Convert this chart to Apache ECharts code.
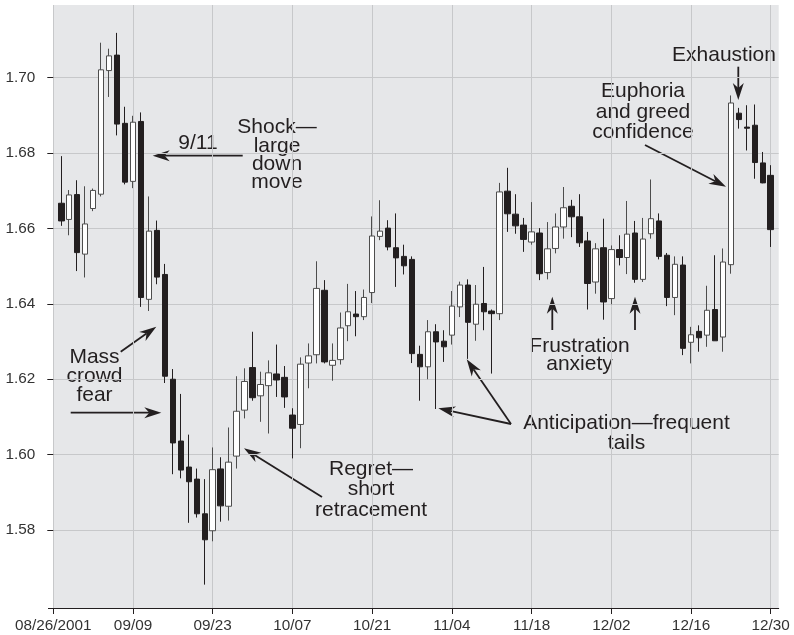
<!DOCTYPE html>
<html>
<head>
<meta charset="utf-8">
<script src="https://cdn.jsdelivr.net/npm/echarts@6/dist/echarts.min.js"></script>
<style>
  html, body { margin: 0; background: #fff; }
  #chart { width: 794px; height: 635px; }
</style>
</head>
<body>
<div id="chart"></div>
<script>
// trading days, one empty slot at each end so the ticks fall where the original has them
const dates = [
  '08/24',
  '08/27','08/28','08/29','08/30','08/31',
  '09/03','09/04','09/05','09/06','09/07',
  '09/10','09/11','09/12','09/13','09/14',
  '09/17','09/18','09/19','09/20','09/21',
  '09/24','09/25','09/26','09/27','09/28',
  '10/01','10/02','10/03','10/04','10/05',
  '10/08','10/09','10/10','10/11','10/12',
  '10/15','10/16','10/17','10/18','10/19',
  '10/22','10/23','10/24','10/25','10/26',
  '10/29','10/30','10/31','11/01','11/02',
  '11/05','11/06','11/07','11/08','11/09',
  '11/12','11/13','11/14','11/15','11/16',
  '11/19','11/20','11/21','11/22','11/23',
  '11/26','11/27','11/28','11/29','11/30',
  '12/03','12/04','12/05','12/06','12/07',
  '12/10','12/11','12/12','12/13','12/14',
  '12/17','12/18','12/19','12/20','12/21',
  '12/24','12/25','12/26','12/27','12/28',
  '12/31'
]

const opens = [
  1.6667, 1.6624, 1.6690, 1.6532, 1.6653, 1.6691, 1.7019, 1.7060, 1.6879, 1.6725,
  1.6884, 1.6412, 1.6595, 1.6478, 1.6200, 1.6036, 1.5967, 1.5935, 1.5843, 1.5798,
  1.5962, 1.5863, 1.5996, 1.6118, 1.6231, 1.6156, 1.6183, 1.6214, 1.6205, 1.6105,
  1.6080, 1.6243, 1.6265, 1.6436, 1.6237, 1.6252, 1.6342, 1.6373, 1.6366, 1.6430,
  1.6579, 1.6601, 1.6549, 1.6526, 1.6518, 1.6266, 1.6233, 1.6326, 1.6301, 1.6317,
  1.6392, 1.6450, 1.6346, 1.6401, 1.6381, 1.6374, 1.6699, 1.6638, 1.6609, 1.6564,
  1.6588, 1.6483, 1.6547, 1.6604, 1.6659, 1.6631, 1.6567, 1.6458, 1.6549, 1.6414,
  1.6544, 1.6523, 1.6588, 1.6465, 1.6586, 1.6620, 1.6529, 1.6417, 1.6503, 1.6298,
  1.6327, 1.6317, 1.6385, 1.6312, 1.6504, 1.6906, 1.6869, 1.6874, 1.6774, 1.6741
]
const closes = [
  1.6620, 1.6689, 1.6536, 1.6612, 1.6701, 1.7021, 1.7058, 1.6877, 1.6723, 1.6882,
  1.6417, 1.6593, 1.6471, 1.6208, 1.6031, 1.5959, 1.5928, 1.5843, 1.5774, 1.5960,
  1.5864, 1.5980, 1.6115, 1.6194, 1.6151, 1.6186, 1.6217, 1.6198, 1.6153, 1.6070,
  1.6240, 1.6262, 1.6441, 1.6246, 1.6250, 1.6336, 1.6379, 1.6366, 1.6417, 1.6580,
  1.6593, 1.6551, 1.6522, 1.6501, 1.6268, 1.6233, 1.6326, 1.6299, 1.6286, 1.6394,
  1.6450, 1.6351, 1.6399, 1.6379, 1.6374, 1.6697, 1.6639, 1.6607, 1.6571, 1.6591,
  1.6480, 1.6546, 1.6604, 1.6655, 1.6631, 1.6562, 1.6454, 1.6546, 1.6405, 1.6544,
  1.6523, 1.6585, 1.6465, 1.6572, 1.6626, 1.6526, 1.6417, 1.6505, 1.6282, 1.6318,
  1.6310, 1.6383, 1.6302, 1.6511, 1.6933, 1.6889, 1.6866, 1.6775, 1.6721, 1.6597
]
const lows = [
  1.6607, 1.6582, 1.6487, 1.6470, 1.6646, 1.6685, 1.6949, 1.6847, 1.6717, 1.6707,
  1.6392, 1.6381, 1.6452, 1.6190, 1.5948, 1.5937, 1.5819, 1.5833, 1.5655, 1.5770,
  1.5822, 1.5825, 1.5963, 1.6096, 1.6143, 1.6087, 1.6056, 1.6153, 1.6124, 1.5990,
  1.6017, 1.6176, 1.6242, 1.6242, 1.6196, 1.6239, 1.6301, 1.6314, 1.6357, 1.6402,
  1.6569, 1.6542, 1.6445, 1.6478, 1.6243, 1.6143, 1.6200, 1.6121, 1.6246, 1.6292,
  1.6365, 1.6254, 1.6302, 1.6330, 1.6215, 1.6357, 1.6591, 1.6586, 1.6538, 1.6557,
  1.6463, 1.6465, 1.6534, 1.6573, 1.6577, 1.6551, 1.6385, 1.6427, 1.6358, 1.6399,
  1.6502, 1.6479, 1.6456, 1.6458, 1.6573, 1.6518, 1.6394, 1.6370, 1.6264, 1.6242,
  1.6273, 1.6286, 1.6302, 1.6273, 1.6480, 1.6865, 1.6807, 1.6732, 1.6720, 1.6551
]
const highs = [
  1.6792, 1.6702, 1.6728, 1.6712, 1.6706, 1.7093, 1.7077, 1.7119, 1.6923, 1.6899,
  1.6908, 1.6685, 1.6621, 1.6506, 1.6227, 1.6161, 1.6053, 1.5963, 1.5935, 1.6019,
  1.5993, 1.6072, 1.6208, 1.6229, 1.6326, 1.6220, 1.6250, 1.6292, 1.6235, 1.6123,
  1.6258, 1.6295, 1.6513, 1.6463, 1.6295, 1.6377, 1.6453, 1.6434, 1.6438, 1.6632,
  1.6675, 1.6622, 1.6640, 1.6557, 1.6526, 1.6289, 1.6357, 1.6346, 1.6330, 1.6434,
  1.6459, 1.6465, 1.6450, 1.6498, 1.6385, 1.6721, 1.6761, 1.6691, 1.6628, 1.6670,
  1.6601, 1.6617, 1.6640, 1.6710, 1.6676, 1.6691, 1.6591, 1.6561, 1.6626, 1.6555,
  1.6582, 1.6673, 1.6620, 1.6628, 1.6730, 1.6640, 1.6535, 1.6526, 1.6526, 1.6339,
  1.6343, 1.6448, 1.6529, 1.6547, 1.6953, 1.6920, 1.6927, 1.6929, 1.6803, 1.6768
]

const xTickLabels = ['08/26/2001', '09/09', '09/23', '10/07', '10/21', '11/04', '11/18', '12/02', '12/16', '12/30']
const yTicks = [1.58, 1.60, 1.62, 1.64, 1.66, 1.68, 1.70]

const INK = '#231f20'
const FONT = '"Liberation Sans", Arial, Helvetica, sans-serif'

const empty = ['-', '-', '-', '-']
const candles = [empty]
for (let i = 0; i < opens.length; i++) {
  candles.push([opens[i], closes[i], lows[i], highs[i]])
}
candles.push(empty)

// annotation text: [text, centre x, baseline y]
const notes = [
  ['9/11', 198, 150.5],
  ['Shock\u2014', 277, 135],
  ['large', 277, 153.5],
  ['down', 277, 172],
  ['move', 277, 190],
  ['Mass', 94.5, 365],
  ['crowd', 94.5, 383.5],
  ['fear', 94.5, 402.5],
  ['Regret\u2014', 371, 477],
  ['short', 371, 497],
  ['retracement', 371, 518],
  ['Anticipation\u2014frequent', 626.5, 431],
  ['tails', 626.5, 450.5],
  ['Frustration', 579.5, 353.5],
  ['anxiety', 579.5, 372],
  ['Euphoria', 643, 99],
  ['and greed', 643, 119.5],
  ['confidence', 643, 140],
  ['Exhaustion', 724, 63]
]

// arrows: [tail x, tail y, tip x, tip y]
const arrows = [
  [242.7, 155.7, 152.7, 155.7],
  [120.7, 351.7, 156.3, 326.7],
  [70.7, 412.7, 161.3, 412.7],
  [322, 497, 244, 448.3],
  [511, 424, 466.7, 359.3],
  [511, 424, 438.3, 408.3],
  [552.3, 330, 552.3, 296.7],
  [635, 330, 635, 296.7],
  [645, 145, 726, 186.7],
  [738.3, 66.7, 738.3, 100]
]

function arrowGraphic(a) {
  const [x1, y1, x2, y2] = a
  const len = Math.hypot(x2 - x1, y2 - y1)
  const dx = (x2 - x1) / len, dy = (y2 - y1) / len
  const nx = -dy, ny = dx
  const L = 17, W = 5.5, notch = 12
  return [
    {
      type: 'line',
      shape: { x1: x1, y1: y1, x2: x2 - dx * notch, y2: y2 - dy * notch },
      style: { stroke: INK, lineWidth: 1.8 }
    },
    {
      type: 'polygon',
      shape: {
        points: [
          [x2, y2],
          [x2 - dx * L + nx * W, y2 - dy * L + ny * W],
          [x2 - dx * notch, y2 - dy * notch],
          [x2 - dx * L - nx * W, y2 - dy * L - ny * W]
        ]
      },
      style: { fill: INK }
    }
  ]
}

const graphics = [
  // the original's x axis line runs a few pixels past the plot on the left
  { type: 'line', shape: { x1: 48, y1: 608.5, x2: 54, y2: 608.5 }, style: { stroke: INK, lineWidth: 1 } }
]
notes.forEach(n => {
  graphics.push({
    type: 'text',
    style: {
      text: n[0], x: n[1], y: n[2] - 7.3,
      font: '21px ' + FONT, fill: INK,
      textAlign: 'center', textVerticalAlign: 'middle'
    }
  })
})
arrows.forEach(a => graphics.push(...arrowGraphic(a)))

const chart = echarts.init(document.getElementById('chart'), null, { renderer: 'canvas' })
chart.setOption({
  animation: false,
  backgroundColor: '#fff',
  grid: {
    left: 53.3,
    right: 15.3,
    top: 5,
    bottom: 27,
    show: true,
    backgroundColor: '#e6e7e9',
    borderWidth: 0
  },
  xAxis: {
    type: 'category',
    data: dates,
    boundaryGap: false,
    axisLine: { lineStyle: { color: INK, width: 1 } },
    axisTick: { show: true, interval: 9, length: 6, lineStyle: { color: INK } },
    axisLabel: {
      interval: 9,
      margin: 10,
      color: '#333',
      fontFamily: FONT,
      fontSize: 15.3,
      formatter: (v, i) => xTickLabels[Math.round(i / 10)] || ''
    },
    splitLine: { show: true, interval: 9, lineStyle: { color: '#c7c8ca', width: 1 } }
  },
  yAxis: {
    type: 'value',
    min: 1.5593,
    max: 1.7193,
    axisLine: { show: false },
    axisTick: { show: true, length: 6, customValues: yTicks, lineStyle: { color: INK } },
    axisLabel: {
      customValues: yTicks,
      margin: 18,
      color: '#333',
      fontFamily: FONT,
      fontSize: 15.3,
      formatter: v => v.toFixed(2)
    },
    splitLine: { show: true, lineStyle: { color: '#c7c8ca', width: 1 } }
  },
  series: [
    {
      type: 'candlestick',
      data: candles,
      barWidth: 6,
      itemStyle: {
        color: '#ffffff',
        borderColor: '#4d4d4d',
        color0: INK,
        borderColor0: INK,
        borderWidth: 1
      }
    }
  ],
  graphic: graphics
})
</script>
</body>
</html>
